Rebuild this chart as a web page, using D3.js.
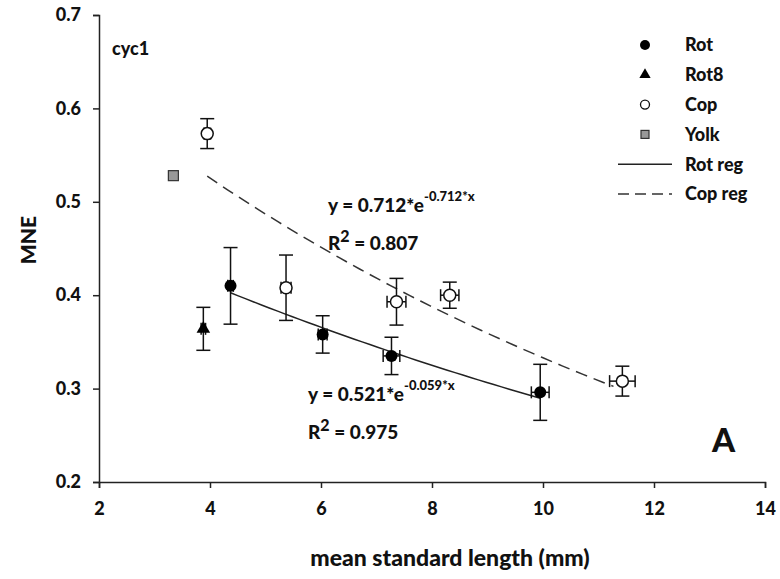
<!DOCTYPE html>
<html>
<head>
<meta charset="utf-8">
<script src="https://cdn.jsdelivr.net/npm/d3@7"></script>
<style>
  body { margin: 0; background: #fff; }
  svg text { font-family: Lato, "Open Sans", sans-serif; font-weight: 900; fill: #111; }
</style>
</head>
<body>
<svg width="780" height="579"></svg>
<script>
// values
const rotX = [4.37, 6.03, 7.27, 9.95];
const rotY = [0.410, 0.358, 0.335, 0.296];
const rotYerr = [0.041, 0.020, 0.020, 0.030];
const rotXerr = [0.05, 0.08, 0.15, 0.16];

const rot8X = [3.88];
const rot8Y = [0.364];
const rot8Yerr = [0.023];
const rot8Xerr = [0.04];

const copX = [3.95, 5.37, 7.36, 8.32, 11.43];
const copY = [0.573, 0.408, 0.393, 0.400, 0.308];
const copYerr = [0.016, 0.035, 0.025, 0.014, 0.016];
const copXerr = [0.06, 0.09, 0.17, 0.165, 0.23];

const yolkX = [3.34];
const yolkY = [0.528];

// regression fits y = a*exp(b*x) over [from, to]
const rotReg = [0.521, -0.059, 4.37, 9.95];
const copReg = [0.712, -0.076, 3.95, 11.27];

const xTicks = [2, 4, 6, 8, 10, 12, 14];
const yTicks = [0.2, 0.3, 0.4, 0.5, 0.6, 0.7];

const svg = d3.select("svg");
const margin = {top: 15, left: 99};
const width = 666;
const height = 467;

const x = d3.scaleLinear().domain([2, 14]).range([0, width]);
const y = d3.scaleLinear().domain([0.2, 0.7]).range([height, 0]);

const g = svg.append("g")
  .attr("transform", "translate(" + margin.left + "," + margin.top + ")");

// axes
const xAxis = g.append("g")
  .attr("transform", "translate(0," + height + ")")
  .call(d3.axisBottom(x).tickValues(xTicks).tickSize(6).tickPadding(14).tickFormat(d3.format("d")));
const yAxis = g.append("g")
  .call(d3.axisLeft(y).tickValues(yTicks).tickSize(6).tickPadding(12).tickFormat(d3.format(".1f")));

[xAxis, yAxis].forEach(a => {
  a.select(".domain").attr("stroke", "#222").attr("stroke-width", 1.5);
  a.selectAll(".tick line").attr("stroke", "#222").attr("stroke-width", 1.5);
  a.selectAll(".tick text").attr("font-size", 18).attr("fill", "#111")
    .attr("font-family", "Lato, sans-serif").attr("font-weight", 900);
});

svg.append("text")
  .attr("transform", "translate(36,240) rotate(-90)")
  .attr("text-anchor", "middle")
  .attr("font-size", 21)
  .text("MNE");

svg.append("text")
  .attr("x", 450)
  .attr("y", 566)
  .attr("text-anchor", "middle")
  .attr("font-size", 23)
  .text("mean standard length (mm)");

// regression curves
function regPoints(r) {
  return d3.range(0, 41).map(i => {
    const xv = r[2] + (r[3] - r[2]) * i / 40;
    return [xv, r[0] * Math.exp(r[1] * xv)];
  });
}
const line = d3.line().x(d => x(d[0])).y(d => y(d[1]));

g.append("path").datum(regPoints(rotReg))
  .attr("d", line).attr("fill", "none").attr("stroke", "#222").attr("stroke-width", 1.5);
g.append("path").datum(regPoints(copReg))
  .attr("d", line).attr("fill", "none").attr("stroke", "#333").attr("stroke-width", 1.5)
  .attr("stroke-dasharray", "12,7");

// error bars
function errorBars(xs, ys, ye, xe) {
  const data = xs.map((d, i) => ({x: d, y: ys[i], ey: ye[i], ex: xe[i]}));
  const eb = g.append("g").attr("stroke", "#111").attr("stroke-width", 1.5).attr("fill", "none");
  const cap = 7, hcap = 6;
  data.forEach(d => {
    eb.append("line").attr("x1", x(d.x)).attr("x2", x(d.x))
      .attr("y1", y(d.y + d.ey)).attr("y2", y(d.y - d.ey));
    eb.append("line").attr("x1", x(d.x) - cap).attr("x2", x(d.x) + cap)
      .attr("y1", y(d.y + d.ey)).attr("y2", y(d.y + d.ey));
    eb.append("line").attr("x1", x(d.x) - cap).attr("x2", x(d.x) + cap)
      .attr("y1", y(d.y - d.ey)).attr("y2", y(d.y - d.ey));
    eb.append("line").attr("x1", x(d.x - d.ex)).attr("x2", x(d.x + d.ex))
      .attr("y1", y(d.y)).attr("y2", y(d.y));
    [d.x - d.ex, d.x + d.ex].forEach(v => {
      eb.append("line").attr("x1", x(v)).attr("x2", x(v))
        .attr("y1", y(d.y) - hcap).attr("y2", y(d.y) + hcap);
    });
  });
}
errorBars(rotX, rotY, rotYerr, rotXerr);
errorBars(rot8X, rot8Y, rot8Yerr, rot8Xerr);
errorBars(copX, copY, copYerr, copXerr);

// markers
g.selectAll(".rot").data(rotX).enter().append("circle")
  .attr("cx", d => x(d)).attr("cy", (d, i) => y(rotY[i])).attr("r", 6)
  .attr("fill", "#000");
g.selectAll(".rot8").data(rot8X).enter().append("path")
  .attr("transform", (d, i) => "translate(" + x(d) + "," + y(rot8Y[i]) + ")")
  .attr("d", d3.symbol(d3.symbolTriangle, 80)).attr("fill", "#000");
g.selectAll(".cop").data(copX).enter().append("circle")
  .attr("cx", d => x(d)).attr("cy", (d, i) => y(copY[i])).attr("r", 6)
  .attr("fill", "#fff").attr("stroke", "#111").attr("stroke-width", 1.5);
g.selectAll(".yolk").data(yolkX).enter().append("rect")
  .attr("x", d => x(d) - 5).attr("y", (d, i) => y(yolkY[i]) - 5)
  .attr("width", 10).attr("height", 10)
  .attr("fill", "#999").attr("stroke", "#333").attr("stroke-width", 1.2);

// annotations
svg.append("text").attr("x", 112).attr("y", 55).attr("font-size", 18).text("cyc1");
svg.append("text").attr("x", 712).attr("y", 452).attr("font-size", 33).text("A");

function equation(x0, y0, a, expo, r2) {
  const t = svg.append("text").attr("x", x0).attr("y", y0).attr("font-size", 19);
  t.append("tspan").text("y = " + a + "*e");
  t.append("tspan").attr("dy", -11).attr("font-size", 13).text(expo);
  const r = svg.append("text").attr("x", x0).attr("y", y0 + 38).attr("font-size", 19);
  r.append("tspan").text("R");
  r.append("tspan").attr("dy", -8).attr("font-size", 16).text("2");
  r.append("tspan").attr("dy", 8).text(" = " + r2);
}
equation(328, 212, "0.712", "-0.712*x", "0.807");
equation(308, 401, "0.521", "-0.059*x", "0.975");

// legend
const legendNames = ["Rot", "Rot8", "Cop", "Yolk", "Rot reg", "Cop reg"];
const legY = d3.scalePoint().domain(legendNames).range([45, 194]);
const lg = svg.append("g");
lg.append("circle").attr("cx", 645).attr("cy", legY("Rot")).attr("r", 5).attr("fill", "#000");
lg.append("path").attr("transform", "translate(645," + legY("Rot8") + ")")
  .attr("d", d3.symbol(d3.symbolTriangle, 55)).attr("fill", "#000");
lg.append("circle").attr("cx", 645).attr("cy", legY("Cop")).attr("r", 4.5)
  .attr("fill", "#fff").attr("stroke", "#111").attr("stroke-width", 1.3);
lg.append("rect").attr("x", 641).attr("y", legY("Yolk") - 4).attr("width", 8).attr("height", 8)
  .attr("fill", "#999").attr("stroke", "#333").attr("stroke-width", 1.2);
lg.append("line").attr("x1", 618).attr("x2", 672).attr("y1", legY("Rot reg")).attr("y2", legY("Rot reg"))
  .attr("stroke", "#222").attr("stroke-width", 1.5);
lg.append("line").attr("x1", 618).attr("x2", 672).attr("y1", legY("Cop reg")).attr("y2", legY("Cop reg"))
  .attr("stroke", "#333").attr("stroke-width", 1.5).attr("stroke-dasharray", "11,6");
lg.selectAll("text").data(legendNames).enter().append("text")
  .attr("x", 685).attr("y", d => legY(d)).attr("dy", "0.35em")
  .attr("font-size", 18).text(d => d);
</script>
</body>
</html>
